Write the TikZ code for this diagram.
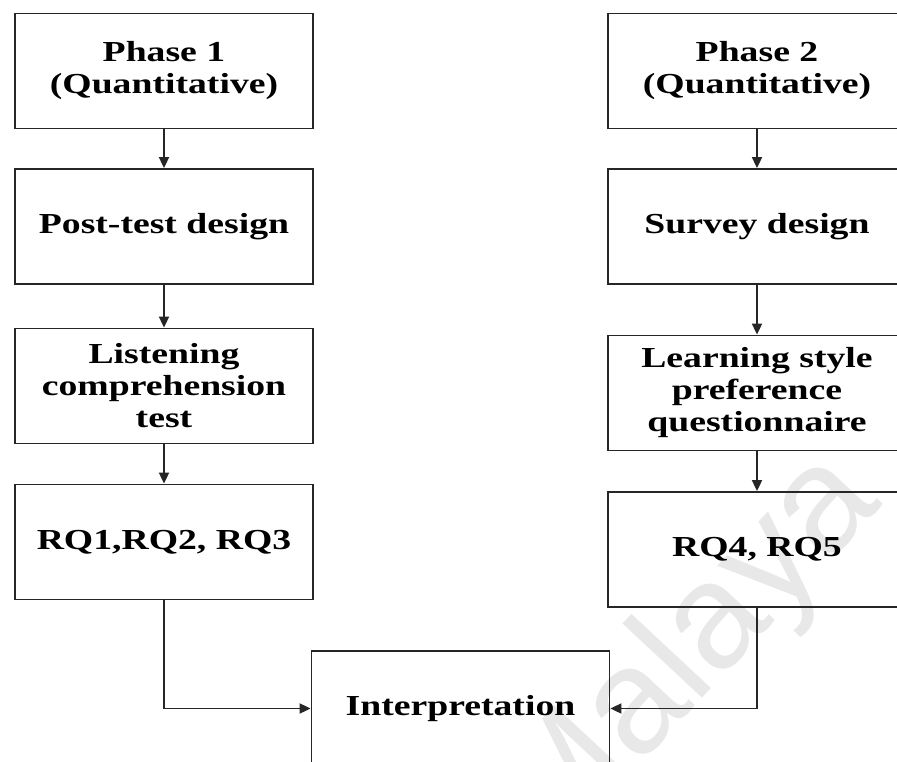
\documentclass[tikz,border=0pt]{standalone}
\usepackage{fontspec}
\setmainfont{Liberation Serif}
\newfontfamily\boxfont[FakeStretch=1.3]{Liberation Serif}
\setsansfont{Liberation Sans}
\usetikzlibrary{arrows.meta}
\begin{document}
\begin{tikzpicture}[x=1pt,y=-1pt,
  box/.style={draw=black!85, line width=1.8pt, minimum width=298pt, minimum height=115pt,
    inner sep=0pt, align=center, text=black,
    font=\boxfont\bfseries\fontsize{29}{32}\selectfont},
  conn/.style={draw=black!85, line width=1.8pt, -{Triangle[length=11pt,width=10pt]}},
  wmark/.style={text=black!9, rotate=47, font=\sffamily\fontsize{150}{150}\selectfont}]
\useasboundingbox (0,0) rectangle (897,762);
\clip (0,0) rectangle (897,762);
\fill[white] (0,0) rectangle (897,762);
% watermark
\node[wmark] (wm) at (690,655) {Malaya};
% left column
\node[box] (p1) at (164,71) {Phase 1\\(Quantitative)};
\node[box] (post) at (164,226.5) {Post-test design};
\node[box] (lis) at (164,386) {Listening\\comprehension\\test};
\node[box] (rq1) at (164,542) {RQ1,RQ2, RQ3};
% right column
\node[box] (p2) at (757,71) {Phase 2\\(Quantitative)};
\node[box] (sur) at (757,226.5) {Survey design};
\node[box] (lea) at (757,393) {Learning style\\preference\\questionnaire};
\node[box] (rq4) at (757,549.5) {RQ4, RQ5};
% bottom
\node[box] (int) at (460.5,708.5) {Interpretation};
% connectors
\draw[conn] (p1) -- (post);
\draw[conn] (post) -- (lis);
\draw[conn] (lis) -- (rq1);
\draw[conn] (p2) -- (sur);
\draw[conn] (sur) -- (lea);
\draw[conn] (lea) -- (rq4);
\draw[conn] (rq1.south) |- (int.west);
\draw[conn] (rq4.south) |- (int.east);
\end{tikzpicture}
\end{document}
